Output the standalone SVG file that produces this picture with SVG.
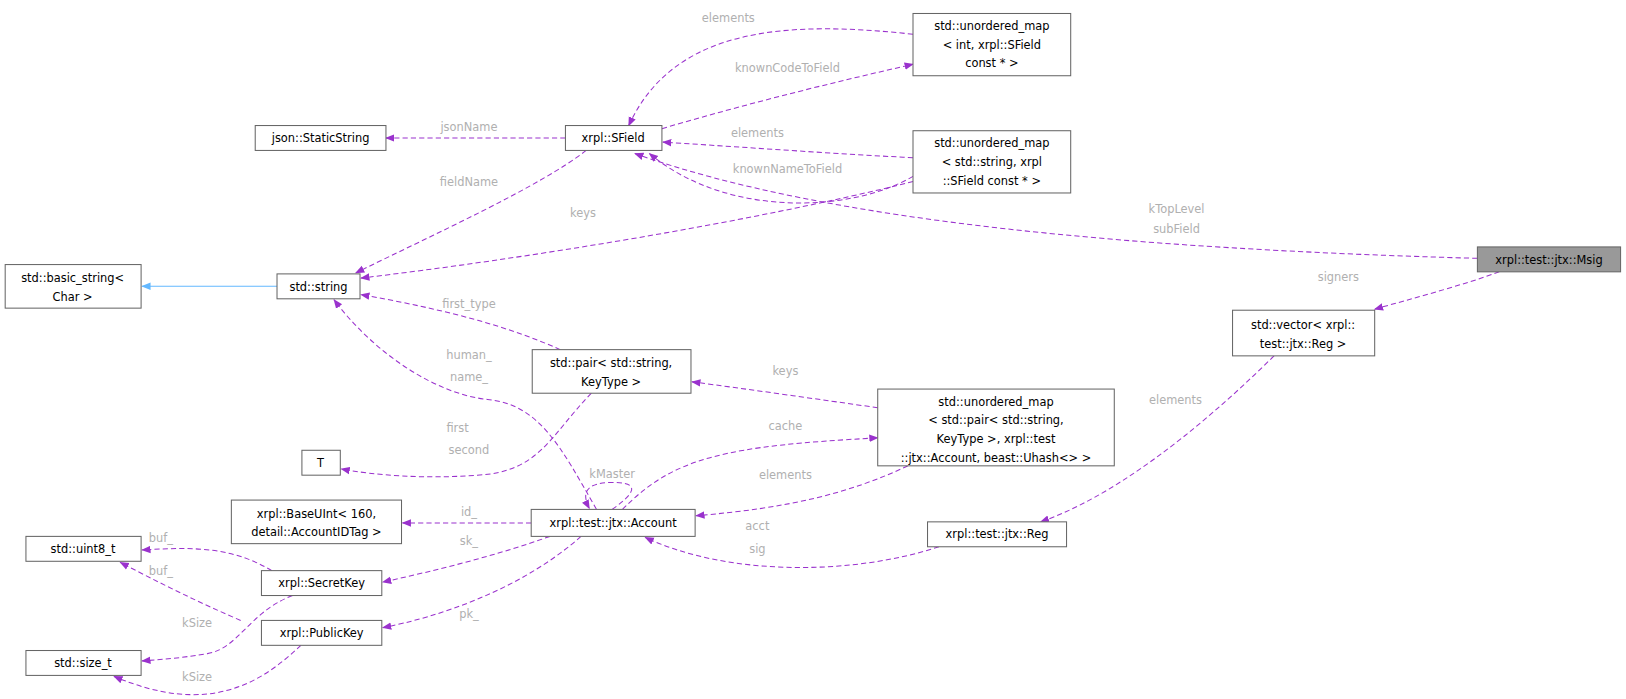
<svg xmlns="http://www.w3.org/2000/svg" width="1626" height="699" viewBox="0 0 1626 699">
<defs>
<style>
.n rect{fill:#fff;stroke:#666;stroke-width:1}
.n text{font-family:"DejaVu Sans",sans-serif;font-size:11px;fill:#000;text-anchor:middle}
.e path{fill:none;stroke:#9a32cd;stroke-width:1;stroke-dasharray:5,3}
.e path.inh{stroke:#63b8ff;stroke-dasharray:none}
.l text{font-family:"DejaVu Sans",sans-serif;font-size:11px;fill:#b0b0b0;text-anchor:middle}
</style>
<marker id="a" viewBox="0 0 10 10" refX="9" refY="5" markerWidth="9" markerHeight="9" orient="auto" markerUnits="userSpaceOnUse"><path d="M0,1L10,5L0,9z" fill="#9a32cd"/></marker>
<marker id="b" viewBox="0 0 10 10" refX="9" refY="5" markerWidth="9" markerHeight="9" orient="auto" markerUnits="userSpaceOnUse"><path d="M0,1L10,5L0,9z" fill="#63b8ff"/></marker>
</defs>
<rect width="1626" height="699" fill="#fff"/>
<g transform="scale(1.0375)">
<g class="e">
<path marker-end="url(#a)" d="M1424,249 C1100,240 800,215 612,148"/>
<path marker-end="url(#a)" d="M1445,262 C1410,275 1360,288 1325,298"/>
<path marker-end="url(#a)" d="M880,33 C760,20 650,25 606,121"/>
<path marker-end="url(#a)" d="M638,124 C720,100 800,80 880,62"/>
<path marker-end="url(#a)" d="M545,133 L372,133"/>
<path marker-end="url(#a)" d="M880,152 C800,148 720,142 639,137"/>
<path marker-end="url(#a)" d="M880,170 C820,205 700,210 626,148"/>
<path marker-end="url(#a)" d="M565,145 C520,180 420,225 343,263"/>
<path marker-end="url(#a)" d="M880,175 C720,215 500,250 348,268"/>
<path class="inh" marker-end="url(#b)" d="M267,276 L137,276"/>
<path marker-end="url(#a)" d="M540,337 C480,310 410,295 348,284"/>
<path marker-end="url(#a)" d="M575,491 C540,430 520,390 470,385 C420,380 360,340 322,289"/>
<path marker-end="url(#a)" d="M570,379 C530,420 520,455 460,458 C410,462 360,458 329,452"/>
<path marker-end="url(#a)" d="M846,393 C790,385 720,375 667,368"/>
<path marker-end="url(#a)" d="M600,491 C650,440 700,430 846,422"/>
<path marker-end="url(#a)" d="M875,449 C820,475 760,490 671,497"/>
<path marker-end="url(#a)" d="M590,491 C620,470 610,465 590,465 C565,465 560,475 568,490"/>
<path marker-end="url(#a)" d="M512,504 L388,504"/>
<path marker-end="url(#a)" d="M530,517 C480,535 420,550 369,561"/>
<path marker-end="url(#a)" d="M560,517 C500,570 420,595 369,605"/>
<path marker-end="url(#a)" d="M905,527 C820,555 700,555 622,518"/>
<path marker-end="url(#a)" d="M1228,343 C1150,420 1070,480 1003,503"/>
<path marker-end="url(#a)" d="M262,550 C220,525 180,528 137,530"/>
<path marker-end="url(#a)" d="M232,598 C190,580 150,560 116,542"/>
<path marker-end="url(#a)" d="M282,574 C240,590 230,625 200,630 C170,635 150,636 137,637"/>
<path marker-end="url(#a)" d="M290,622 C250,660 200,690 110,652"/>
</g>
<g class="l">
<text x="1134" y="205">kTopLevel</text><text x="1134" y="225">subField</text>
<text x="1290" y="271">signers</text>
<text x="702" y="21">elements</text>
<text x="759" y="69">knownCodeToField</text>
<text x="452" y="126">jsonName</text>
<text x="730" y="132">elements</text>
<text x="759" y="167">knownNameToField</text>
<text x="452" y="179">fieldName</text>
<text x="562" y="209">keys</text>
<text x="452" y="297">first_type</text>
<text x="452" y="346">human_</text><text x="452" y="367">name_</text>
<text x="441" y="416">first</text><text x="452" y="438">second</text>
<text x="757" y="361">keys</text>
<text x="757" y="414">cache</text>
<text x="757" y="462">elements</text>
<text x="590" y="461">kMaster</text>
<text x="452" y="497">id_</text>
<text x="452" y="525">sk_</text>
<text x="452" y="596">pk_</text>
<text x="730" y="511">acct</text><text x="730" y="533">sig</text>
<text x="1133" y="389">elements</text>
<text x="155" y="522">buf_</text>
<text x="155" y="554">buf_</text>
<text x="190" y="604">kSize</text>
<text x="190" y="656">kSize</text>
</g>
<g class="n" id="msig"><rect x="1424" y="238" width="138" height="24" style="fill:#999"/><text x="1493" y="254">xrpl::test::jtx::Msig</text></g>
<g class="n" id="umap_int"><rect x="880" y="13" width="152" height="60"/><text x="956" y="29">std::unordered_map</text><text x="956" y="47">&lt; int, xrpl::SField</text><text x="956" y="65">const * &gt;</text></g>
<g class="n" id="staticstring"><rect x="246" y="121" width="126" height="24"/><text x="309" y="137">json::StaticString</text></g>
<g class="n" id="sfield"><rect x="545" y="121" width="93" height="24"/><text x="591" y="137">xrpl::SField</text></g>
<g class="n" id="umap_str"><rect x="880" y="126" width="152" height="60"/><text x="956" y="142">std::unordered_map</text><text x="956" y="160">&lt; std::string, xrpl</text><text x="956" y="178">::SField const * &gt;</text></g>
<g class="n" id="basic_string"><rect x="5" y="255" width="131" height="42"/><text x="70" y="272">std::basic_string&lt;</text><text x="70" y="290">Char &gt;</text></g>
<g class="n" id="string"><rect x="267" y="264" width="80" height="24"/><text x="307" y="280">std::string</text></g>
<g class="n" id="vector"><rect x="1188" y="299" width="137" height="44"/><text x="1256" y="317">std::vector&lt; xrpl::</text><text x="1256" y="335">test::jtx::Reg &gt;</text></g>
<g class="n" id="pair"><rect x="513" y="337" width="153" height="42"/><text x="589" y="354">std::pair&lt; std::string,</text><text x="589" y="372">KeyType &gt;</text></g>
<g class="n" id="umap_pair"><rect x="846" y="375" width="228" height="74"/><text x="960" y="391">std::unordered_map</text><text x="960" y="409">&lt; std::pair&lt; std::string,</text><text x="960" y="427">KeyType &gt;, xrpl::test</text><text x="960" y="445">::jtx::Account, beast::Uhash&lt;&gt; &gt;</text></g>
<g class="n" id="T"><rect x="291" y="434" width="37" height="24"/><text x="309" y="450">T</text></g>
<g class="n" id="baseuint"><rect x="223" y="482" width="164" height="42"/><text x="305" y="499">xrpl::BaseUInt&lt; 160,</text><text x="305" y="517">detail::AccountIDTag &gt;</text></g>
<g class="n" id="account"><rect x="512" y="491" width="158" height="26"/><text x="591" y="508">xrpl::test::jtx::Account</text></g>
<g class="n" id="reg"><rect x="894" y="503" width="134" height="24"/><text x="961" y="519">xrpl::test::jtx::Reg</text></g>
<g class="n" id="uint8"><rect x="25" y="517" width="111" height="24"/><text x="80" y="533">std::uint8_t</text></g>
<g class="n" id="secretkey"><rect x="252" y="550" width="116" height="24"/><text x="310" y="566">xrpl::SecretKey</text></g>
<g class="n" id="publickey"><rect x="252" y="598" width="116" height="24"/><text x="310" y="614">xrpl::PublicKey</text></g>
<g class="n" id="size_t"><rect x="25" y="627" width="111" height="24"/><text x="80" y="643">std::size_t</text></g>
</g>
</svg>
